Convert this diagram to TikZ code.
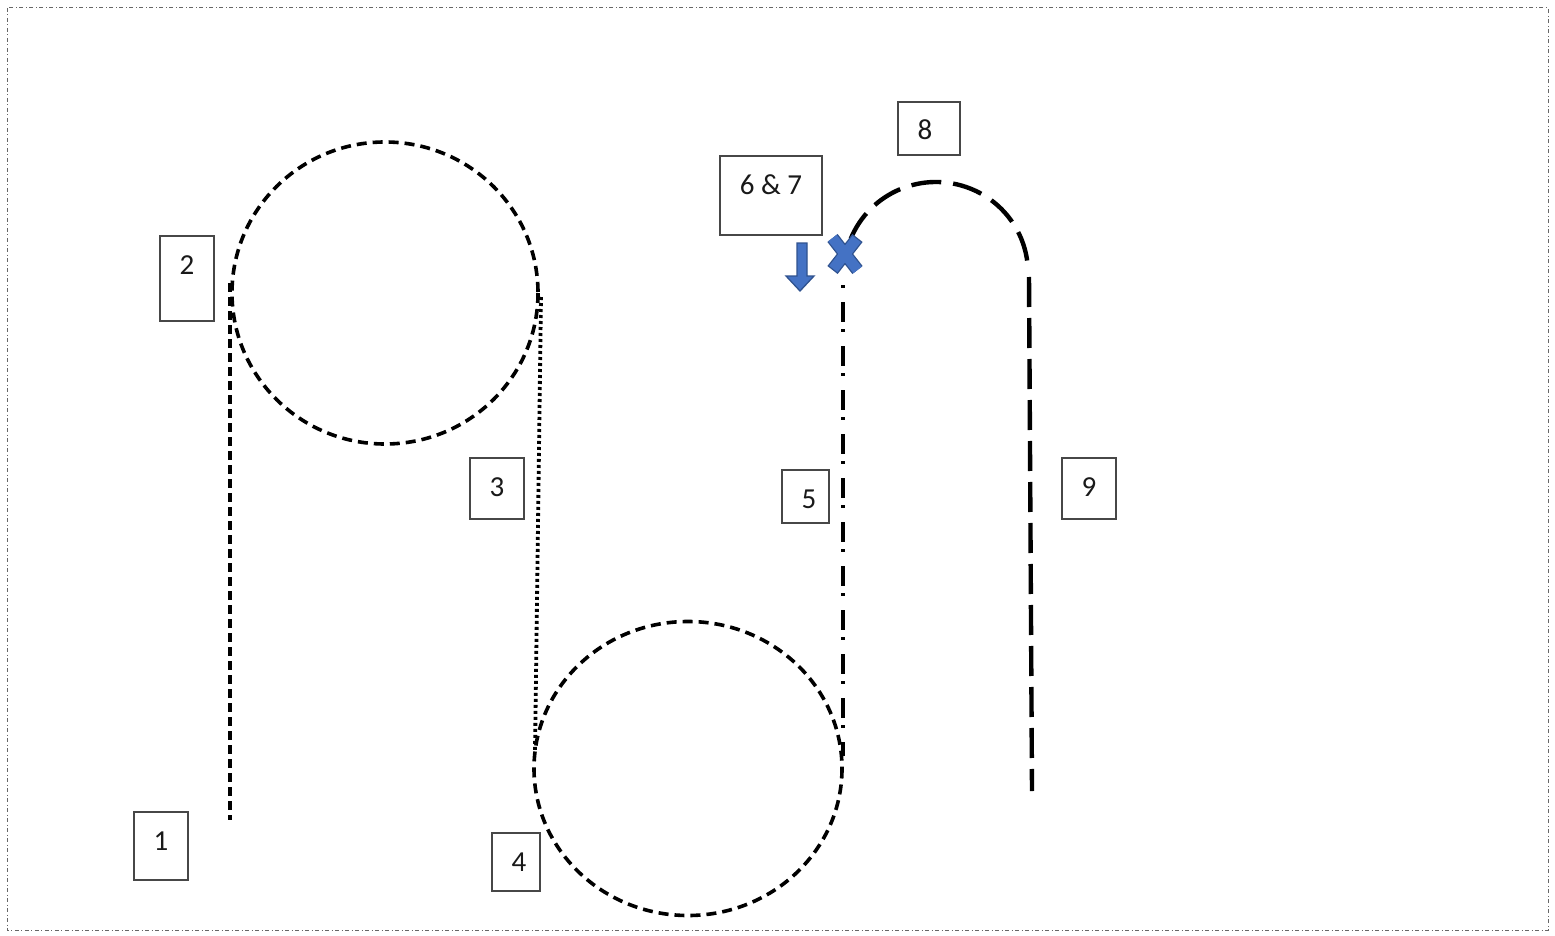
\documentclass[tikz,border=0pt]{standalone}
\usepackage{fontspec}
\setmainfont{Carlito}
\begin{document}
\begin{tikzpicture}[x=1pt,y=-1pt,
  box/.style={draw=black!72,line width=1.4pt,rectangle,inner sep=0pt},
  lbl/.style={inner sep=0pt,font=\fontsize{29}{31}\selectfont,text=black!90},
  blueshape/.style={fill=blue1,draw=blue2,line width=1.3pt},
]
\definecolor{blue1}{HTML}{4472C4}
\definecolor{blue2}{HTML}{2F528F}
\useasboundingbox (0,0) rectangle (1555,936);
% frame
\draw[black!60,line width=1pt,dash pattern=on 4pt off 2.5pt on 1pt off 2.5pt] (7,8) rectangle (1548,930);

% boxes
\node[box,minimum width=54,minimum height=68] (b1) at (161,846) {};
\node[lbl] (t1) at (161,841) {1};
\node[box,minimum width=54,minimum height=85] (b2) at (187,278.5) {};
\node[lbl] (t2) at (187,265) {2};
\node[box,minimum width=54,minimum height=61] (b3) at (497,488.5) {};
\node[lbl] (t3) at (497,487) {3};
\node[box,minimum width=48,minimum height=58] (b4) at (516,862) {};
\node[lbl] (t4) at (519,862) {4};
\node[box,minimum width=47,minimum height=53] (b5) at (805.5,496.5) {};
\node[lbl] (t5) at (809,499) {5};
\node[box,minimum width=102,minimum height=79] (b67) at (771,195.5) {};
\node[lbl] (t67) at (771,185) {6 \& 7};
\node[box,minimum width=62,minimum height=53] (b8) at (929,128.5) {};
\node[lbl] (t8) at (925,130) {8};
\node[box,minimum width=54,minimum height=61] (b9) at (1089,488.5) {};
\node[lbl] (t9) at (1089,487) {9};

% circles
\draw[line width=3.6pt,dash pattern=on 10pt off 6pt] (385,293) ellipse [x radius=153,y radius=151];
\draw[line width=3.6pt,dash pattern=on 10pt off 6pt] (688,768.5) ellipse [x radius=154,y radius=147];

% line 1
\draw[line width=3.6pt,dash pattern=on 9pt off 5pt] (230,283) -- (230,820);
% line 3 dotted
\draw[line width=3.8pt,dash pattern=on 3pt off 3pt] (541,297) -- (535,752);
% line 5 dash-dot
\draw[line width=3.8pt,dash pattern=on 3pt off 14pt on 20pt off 7pt] (843,285) -- (843,756);
% arc 8
\draw[line width=4.4pt,dash pattern=on 30pt off 12pt] (936,273) ++(-158:92 and 91) arc[start angle=-158,end angle=-5,x radius=92,y radius=91];
% line 9
\draw[line width=4.4pt,dash pattern=on 30pt off 11pt] (1029,277) -- (1032,791);

% blue X
\draw[blue2,line width=13pt] (832.5,238) -- (857.5,270) (857.5,238) -- (832.5,270);
\draw[blue1,line width=10.4pt,shorten <=1.3pt,shorten >=1.3pt] (832.5,238) -- (857.5,270) (857.5,238) -- (832.5,270);
% blue arrow
\draw[blueshape,line join=miter] (797,243) -- (807,243) -- (807,276) -- (814,276) -- (800,291) -- (786,276) -- (797,276) -- cycle;
\end{tikzpicture}
\end{document}
